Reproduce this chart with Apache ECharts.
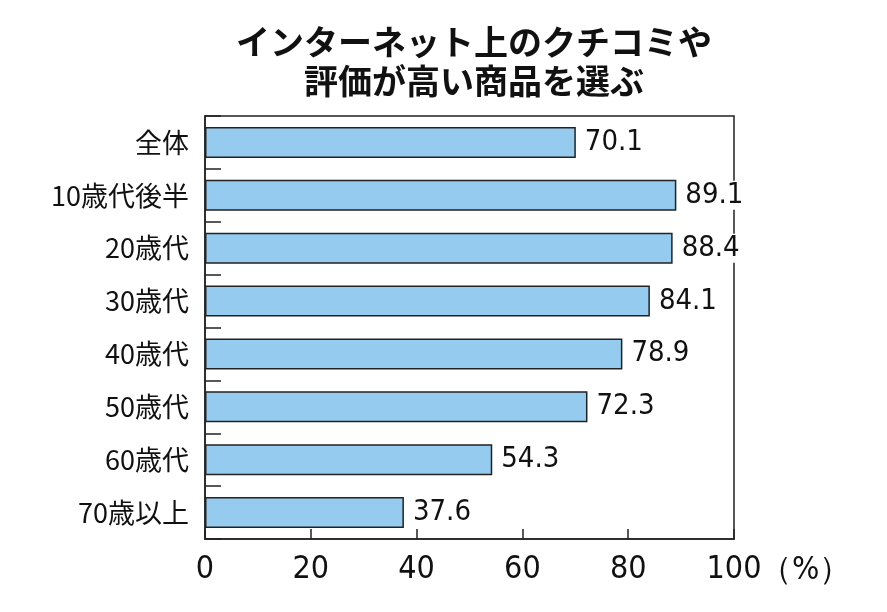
<!DOCTYPE html>
<html><head><meta charset="utf-8">
<script src="https://cdn.jsdelivr.net/npm/echarts@6/dist/echarts.min.js"></script>
<style>html,body{margin:0;padding:0;background:#fff}#c{width:887px;height:612px}</style>
</head><body><div id="c"></div>
<script>
const titleText = 'インターネット上のクチコミや\n評価が高い商品を選ぶ';
const categories = ['全体','10歳代後半','20歳代','30歳代','40歳代','50歳代','60歳代','70歳以上'];
const values = [70.1, 89.1, 88.4, 84.1, 78.9, 72.3, 54.3, 37.6];
const xTicks = [0, 20, 40, 60, 80, 100];
const unitText = '（%）';

const numFont = '"Liberation Sans Narrow","DejaVu Sans Condensed","Roboto Condensed","Liberation Sans",sans-serif';
const cjkFont = '"Noto Sans CJK JP","Noto Sans",sans-serif';
const chart = echarts.init(document.getElementById('c'), null, {renderer:'canvas'});
chart.setOption({
  animation:false,
  backgroundColor:'#fff',
  title:{text:titleText,left:469,textAlign:'center',top:18,textStyle:{fontFamily:cjkFont,fontSize:34,fontWeight:'bold',color:'#111',lineHeight:39}},
  grid:{left:205,right:153,top:116,bottom:73,show:true,borderColor:'#222',borderWidth:1.5,backgroundColor:'transparent'},
  xAxis:{type:'value',min:xTicks[0],max:xTicks[xTicks.length-1],interval:20,
    axisLine:{show:true,lineStyle:{color:'#222',width:1.5}},
    axisTick:{show:true,inside:true,length:10,lineStyle:{color:'#222',width:1.5}},
    splitLine:{show:false},
    axisLabel:{margin:15,fontFamily:numFont,fontSize:32,color:'#111'}},
  yAxis:{type:'category',data:categories,inverse:true,
    axisLine:{show:true,lineStyle:{color:'#222',width:1.5}},
    axisTick:{show:true,inside:true,length:16,lineStyle:{color:'#222',width:1.5}},
    axisLabel:{margin:16,fontFamily:cjkFont,fontSize:27,color:'#111'}},
  series:[{type:'bar',data:values,barWidth:31,
    itemStyle:{color:'#95CBEE',borderColor:'#222',borderWidth:1.5},
    label:{show:true,position:'right',distance:7,fontFamily:numFont,fontSize:29,color:'#111',
      backgroundColor:'#fff',padding:[0,2],formatter:p=>p.value.toFixed(1)}}],
  graphic:[{type:'text',left:760,top:555,style:{text:unitText,fontFamily:numFont,fontSize:32,fill:'#111'}}]
});
</script></body></html>
